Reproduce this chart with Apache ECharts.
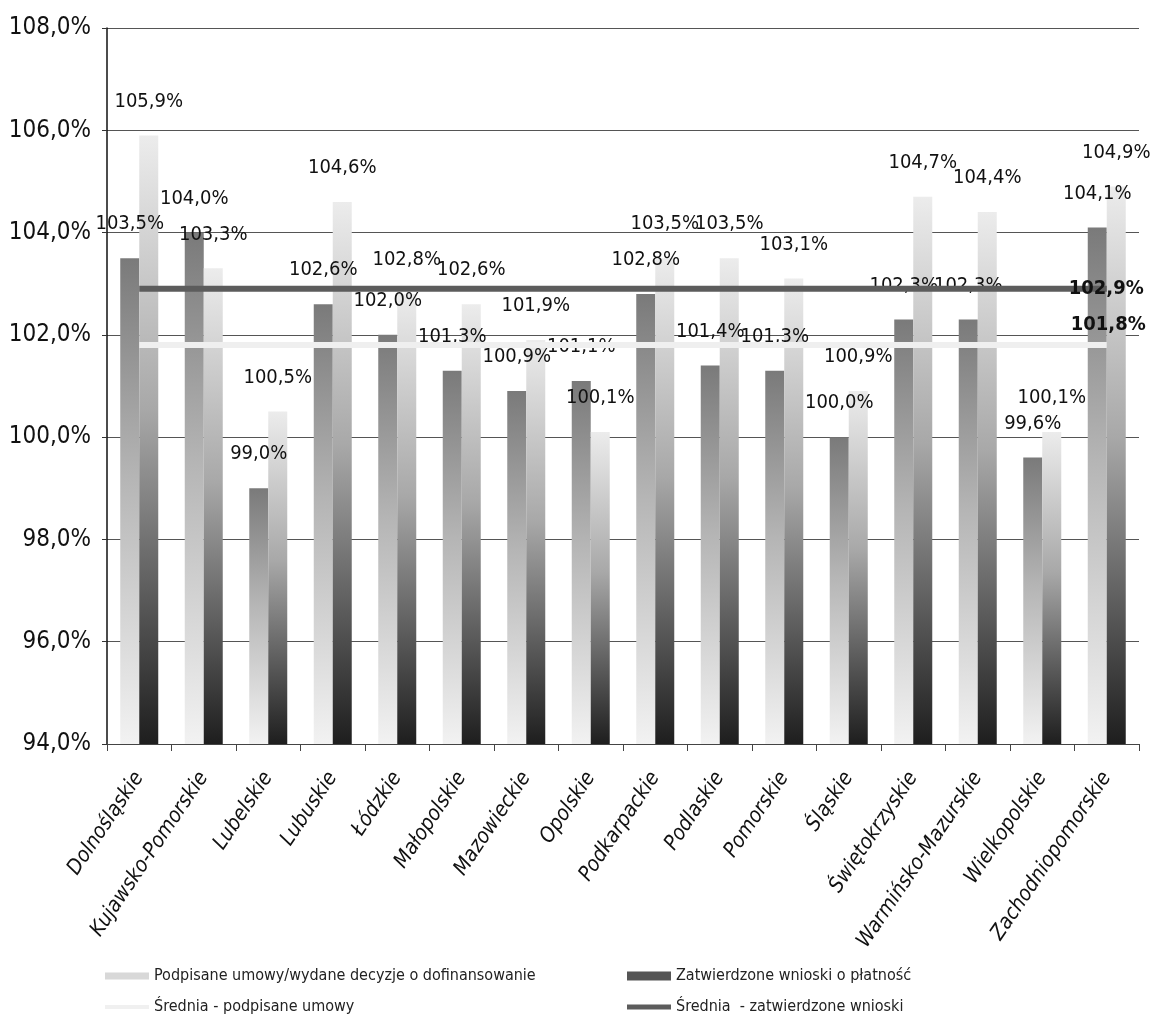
<!DOCTYPE html>
<html>
<head>
<meta charset="utf-8">
<script src="https://cdn.jsdelivr.net/npm/echarts@6/dist/echarts.min.js"></script>
<style>
html,body{margin:0;padding:0;background:#fff;}
#chart{width:1151px;height:1020px;}
</style>
</head>
<body>
<div id="chart"></div>
<script>
const categories = ['Dolnośląskie','Kujawsko-Pomorskie','Lubelskie','Lubuskie','Łódzkie','Małopolskie','Mazowieckie','Opolskie','Podkarpackie','Podlaskie','Pomorskie','Śląskie','Świętokrzyskie','Warmińsko-Mazurskie','Wielkopolskie','Zachodniopomorskie'];
const zatwierdzone = [103.5,104.0,99.0,102.6,102.0,101.3,100.9,101.1,102.8,101.4,101.3,100.0,102.3,102.3,99.6,104.1];
const podpisane = [105.9,103.3,100.5,104.6,102.8,102.6,101.9,100.1,103.5,103.5,103.1,100.9,104.7,104.4,100.1,104.9];
const sredniaZatw = 102.9;
const sredniaPodp = 101.8;
const yTicks = [94,96,98,100,102,104,106,108];

const NAME_P = 'Podpisane umowy/wydane decyzje o dofinansowanie';
const NAME_Z = 'Zatwierdzone wnioski o płatność';
const NAME_SP = 'Średnia - podpisane umowy';
const NAME_SZ = 'Średnia  - zatwierdzone wnioski';

const FONT = "'DejaVu Sans Condensed','Liberation Sans Narrow',sans-serif";
const fmt = v => v.toFixed(1).replace('.', ',') + '%';

const chart = echarts.init(document.getElementById('chart'));

const gradZ = new echarts.graphic.LinearGradient(0,0,0,1,[
  {offset:0,color:'#7a7a7a'},{offset:0.45,color:'#b5b5b5'},{offset:1,color:'#f2f2f2'}]);
const gradP = new echarts.graphic.LinearGradient(0,0,0,1,[
  {offset:0,color:'#ececec'},{offset:0.45,color:'#a8a8a8'},{offset:1,color:'#1e1e1e'}]);

function legendAt(item, left, top, h){
  return {data:[item], left:left, top:top, itemWidth:44, itemHeight:h, itemGap:4, icon:'rect',
    textStyle:{fontFamily:FONT, fontSize:16, color:'#222'}, selectedMode:false};
}

chart.setOption({
  animation:false,
  backgroundColor:'#fff',
  grid:{left:107, right:12, top:28, bottom:276, containLabel:false},
  legend:[
    legendAt({name:NAME_P, itemStyle:{color:'#d8d8d8'}}, 100, 963, 7),
    legendAt({name:NAME_Z, itemStyle:{color:'#555'}}, 622, 963, 9),
    legendAt({name:NAME_SP, itemStyle:{color:'#f0f0f0'}}, 100, 994, 4),
    legendAt({name:NAME_SZ, itemStyle:{color:'#5c5c5c'}}, 622, 994, 5)
  ],
  xAxis:{
    type:'category', data:categories,
    axisLine:{lineStyle:{color:'#444', width:1}},
    axisTick:{show:true, length:7, lineStyle:{color:'#444'}},
    axisLabel:{rotate:56, fontStyle:'italic', fontFamily:FONT, fontSize:21, color:'#111', margin:30, interval:0}
  },
  yAxis:{
    type:'value', min:94, max:108, interval:2,
    axisLine:{show:true, lineStyle:{color:'#111', width:1.5}},
    axisTick:{show:true, length:5, lineStyle:{color:'#333'}},
    splitLine:{lineStyle:{color:'#555', width:1}},
    axisLabel:{formatter:fmt, fontFamily:FONT, fontSize:24, color:'#111', margin:16}
  },
  series:[
    {name:NAME_Z, type:'bar', data:zatwierdzone, barWidth:19, barGap:'0%',
     itemStyle:{color:gradZ},
     label:{show:true, position:'top', distance:24, formatter:p=>fmt(p.value), fontFamily:FONT, fontSize:20, color:'#111'}},
    {name:NAME_P, type:'bar', data:podpisane, barWidth:19,
     itemStyle:{color:gradP},
     label:{show:true, position:'top', distance:24, formatter:p=>fmt(p.value), fontFamily:FONT, fontSize:20, color:'#111'}},
    {name:NAME_SP, type:'line', data:categories.map(()=>sredniaPodp), symbol:'none', z:5,
     lineStyle:{color:'#efefef', width:6},
     itemStyle:{color:'#efefef'},
     endLabel:{show:true, formatter:p=>fmt(p.value), offset:[-44,-20], fontFamily:FONT, fontSize:20, fontWeight:'bold', color:'#111'}},
    {name:NAME_SZ, type:'line', data:categories.map(()=>sredniaZatw), symbol:'none', z:6,
     lineStyle:{color:'#5c5c5c', width:6},
     itemStyle:{color:'#5c5c5c'},
     endLabel:{show:true, formatter:p=>fmt(p.value), offset:[-46,0], fontFamily:FONT, fontSize:20, fontWeight:'bold', color:'#111'}}
  ]
});
</script>
</body>
</html>
